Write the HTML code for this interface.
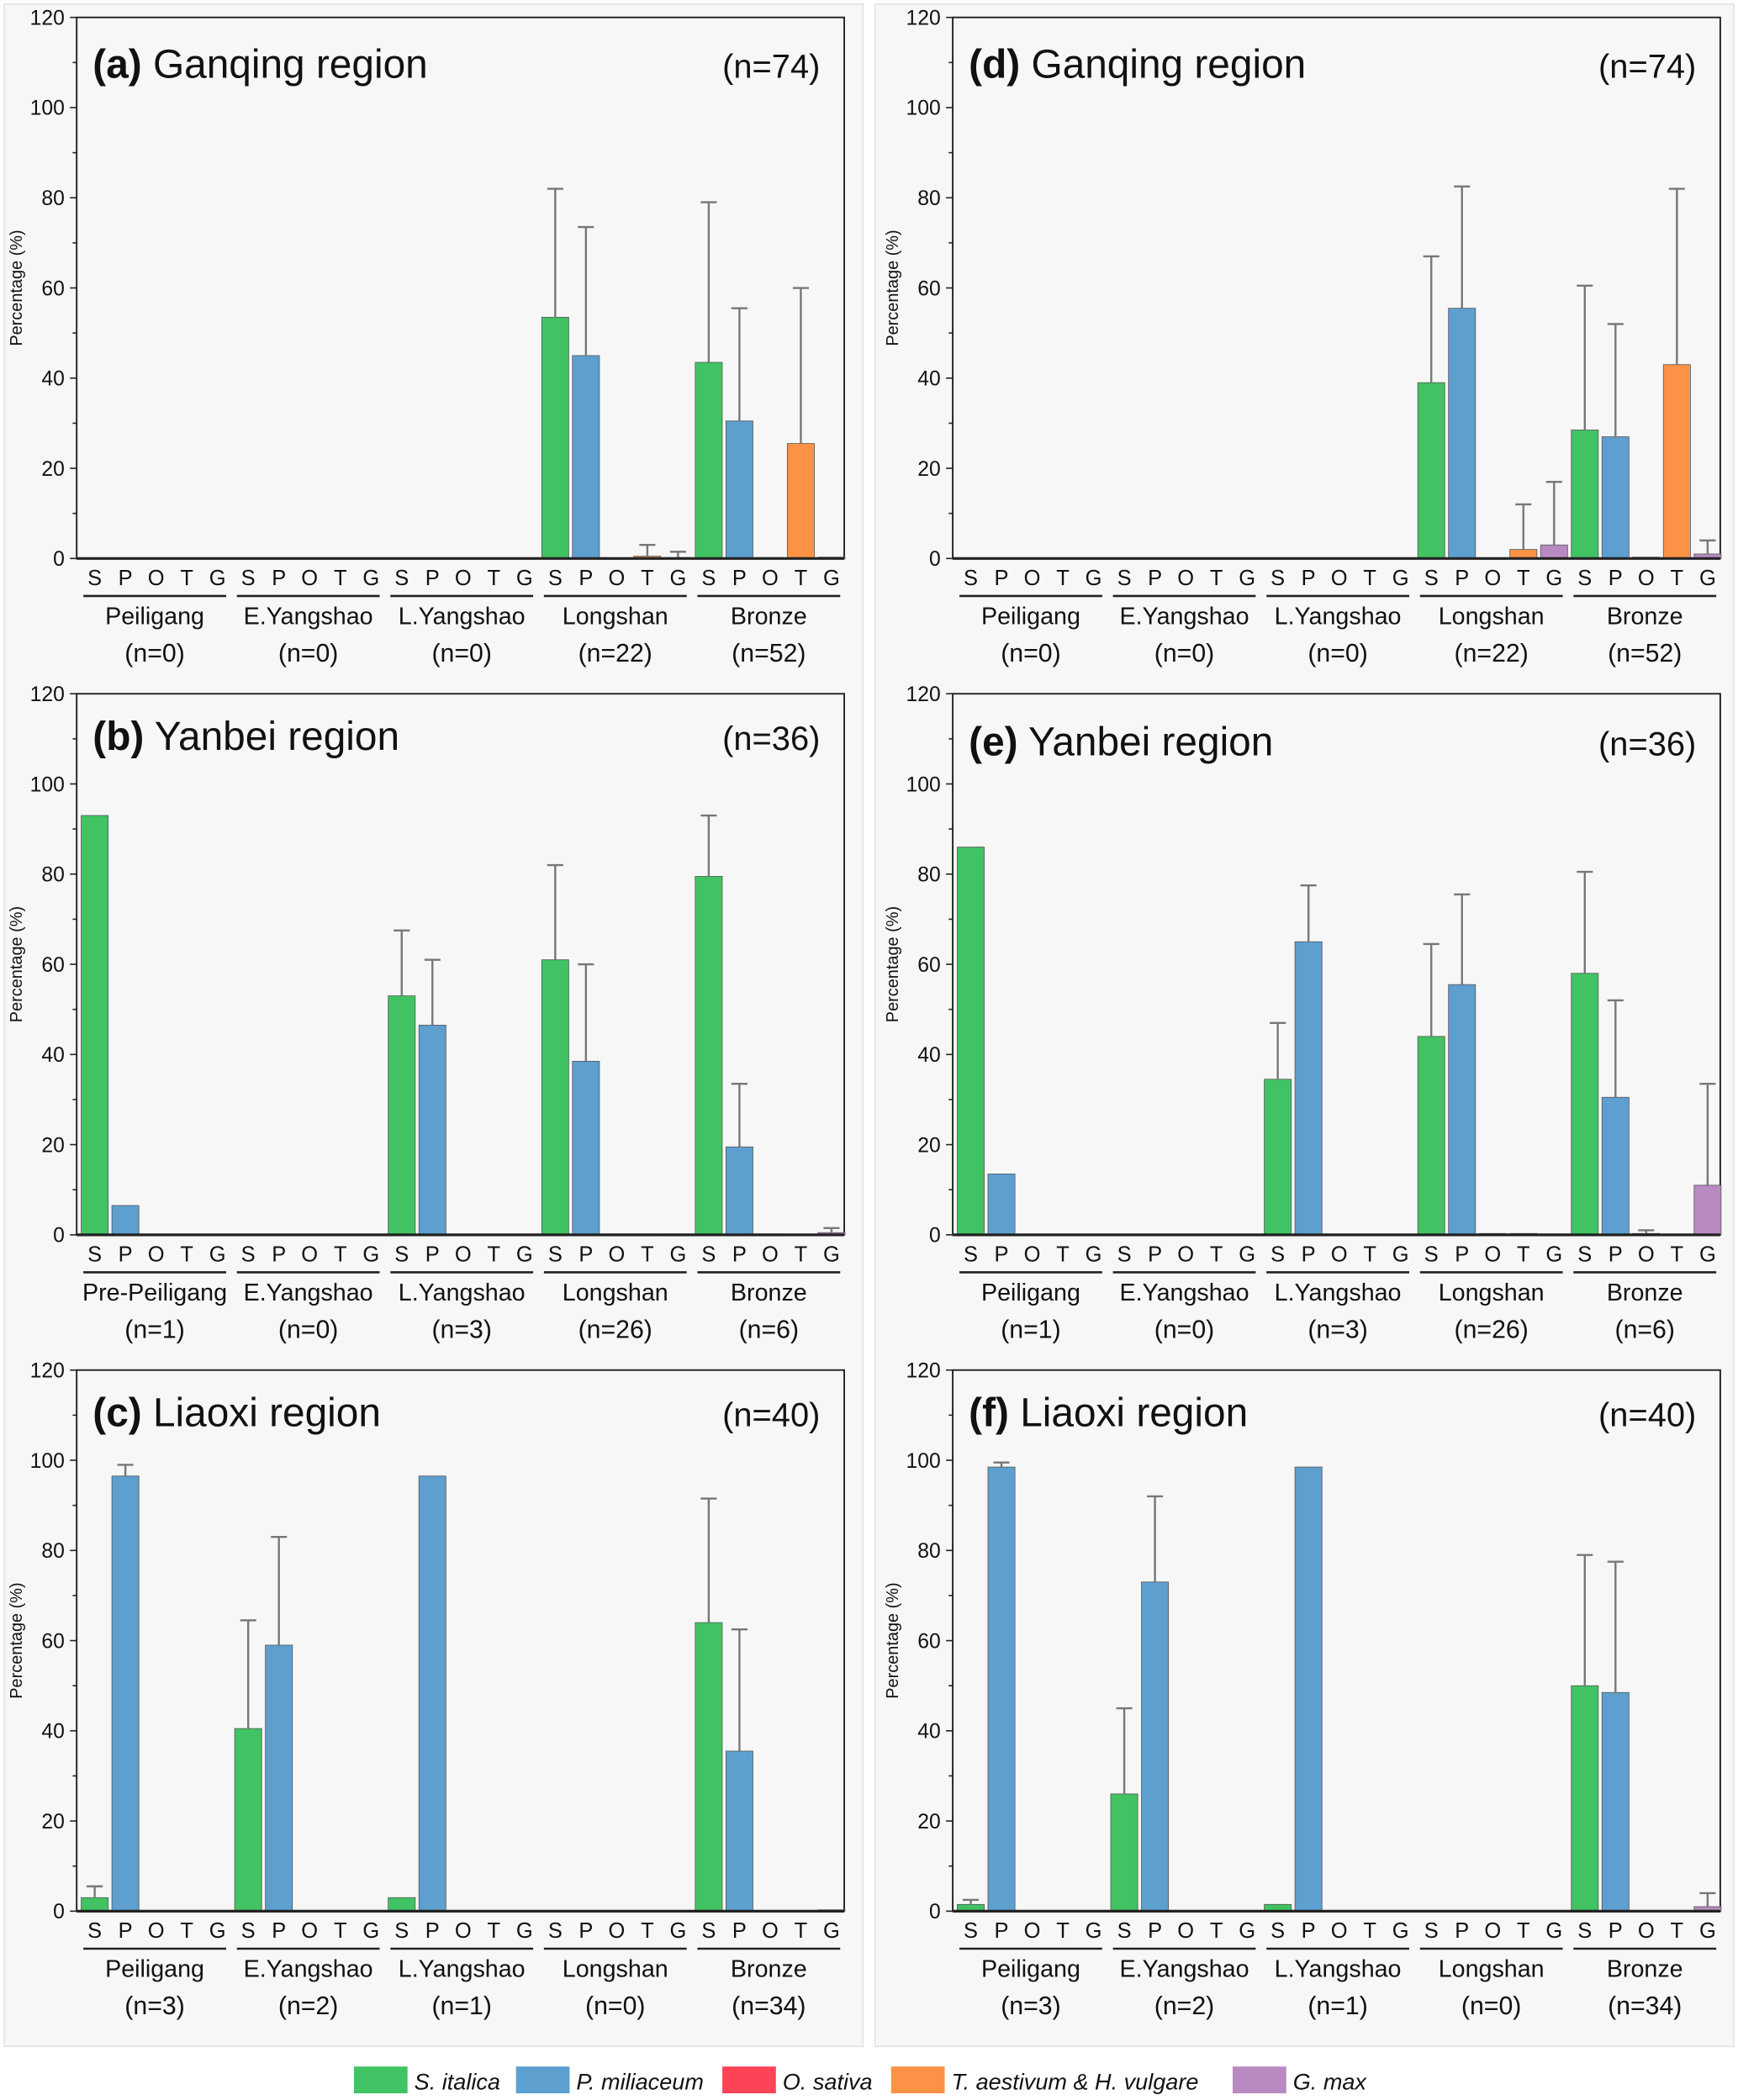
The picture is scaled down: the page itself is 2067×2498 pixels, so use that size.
<!DOCTYPE html>
<html><head><meta charset="utf-8"><style>
html,body{margin:0;padding:0;background:#fff;}
svg{display:block;font-family:"Liberation Sans",sans-serif;}
</style></head><body>
<svg id="fig" width="2067" height="2498" viewBox="0 0 1297 1568" xmlns="http://www.w3.org/2000/svg">
<rect x="3" y="3" width="641" height="1525" fill="#f7f7f7" stroke="#e2e2e2"/>
<rect x="653" y="3" width="641" height="1525" fill="#f7f7f7" stroke="#e2e2e2"/>
<g id="panels"></g>
<g id="legend"></g>
</svg>
<script>
const speciesCodes = ["S","P","O","T","G"];
const speciesColors = ["#41c363","#5d9fcf","#fe4356","#fc9245","#b98ac1"];
const speciesNames = ["S. italica","P. miliaceum","O. sativa","T. aestivum & H. vulgare","G. max"];
const yTicks = [0,20,40,60,80,100,120];

const aS=[null,null,null,53.5,43.5], aP=[null,null,null,45,30.5], aO=[null,null,null,0,0.2], aT=[null,null,null,0.5,25.5], aG=[null,null,null,0.2,0.3];
const aSe=[null,null,null,82,79], aPe=[null,null,null,73.5,55.5], aOe=[null,null,null,null,null], aTe=[null,null,null,3,60], aGe=[null,null,null,1.5,null];
const aGroups=["Peiligang","E.Yangshao","L.Yangshao","Longshan","Bronze"], aN=["(n=0)","(n=0)","(n=0)","(n=22)","(n=52)"];

const bS=[93,null,53,61,79.5], bP=[6.5,null,46.5,38.5,19.5], bO=[null,null,null,0.2,0.2], bT=[null,null,null,0.2,null], bG=[null,null,null,0.2,0.5];
const bSe=[null,null,67.5,82,93], bPe=[null,null,61,60,33.5], bOe=[null,null,null,null,null], bTe=[null,null,null,null,null], bGe=[null,null,null,null,1.5];
const bGroups=["Pre-Peiligang","E.Yangshao","L.Yangshao","Longshan","Bronze"], bN=["(n=1)","(n=0)","(n=3)","(n=26)","(n=6)"];

const cS=[3,40.5,3,null,64], cP=[96.5,59,96.5,null,35.5], cO=[null,null,null,null,null], cT=[null,null,null,null,null], cG=[null,null,null,null,0.3];
const cSe=[5.5,64.5,null,null,91.5], cPe=[99,83,null,null,62.5], cOe=[null,null,null,null,null], cTe=[null,null,null,null,null], cGe=[null,null,null,null,null];
const cGroups=["Peiligang","E.Yangshao","L.Yangshao","Longshan","Bronze"], cN=["(n=3)","(n=2)","(n=1)","(n=0)","(n=34)"];

const dS=[null,null,null,39,28.5], dP=[null,null,null,55.5,27], dO=[null,null,null,0,0.3], dT=[null,null,null,2,43], dG=[null,null,null,3,1];
const dSe=[null,null,null,67,60.5], dPe=[null,null,null,82.5,52], dOe=[null,null,null,null,null], dTe=[null,null,null,12,82], dGe=[null,null,null,17,4];
const dN=["(n=0)","(n=0)","(n=0)","(n=22)","(n=52)"];

const eS=[86,null,34.5,44,58], eP=[13.5,null,65,55.5,30.5], eO=[null,null,null,0.3,0.3], eT=[null,null,null,0.3,null], eG=[null,null,null,0.2,11];
const eSe=[null,null,47,64.5,80.5], ePe=[null,null,77.5,75.5,52], eOe=[null,null,null,null,1], eTe=[null,null,null,null,null], eGe=[null,null,null,null,33.5];
const eN=["(n=1)","(n=0)","(n=3)","(n=26)","(n=6)"];

const fS=[1.5,26,1.5,null,50], fP=[98.5,73,98.5,null,48.5], fO=[null,null,null,null,null], fT=[null,null,null,null,null], fG=[null,null,null,null,1];
const fSe=[2.5,45,null,null,79], fPe=[99.5,92,null,null,77.5], fOe=[null,null,null,null,null], fTe=[null,null,null,null,null], fGe=[null,null,null,null,4];
const fGroups=["Peiligang","E.Yangshao","L.Yangshao","Longshan","Bronze"];

const NS="http://www.w3.org/2000/svg";
function mk(tag,attrs,parent,text){const e=document.createElementNS(NS,tag);for(const k in attrs)e.setAttribute(k,attrs[k]);if(text!==undefined)e.textContent=text;parent.appendChild(e);return e;}

function panel(cfg){
  const root=document.getElementById('panels');
  const g=mk('g',{},root);
  
  
  const x0=cfg.x0,x1=cfg.x0+573,yTop=cfg.y0,yBot=cfg.y0+404;
  const yS=v=>yBot-(v/120)*(yBot-yTop);
  const gw=(x1-x0)/5, slot=gw/5, bw=slot*0.88;
  const xS=(gi,si)=>x0+gi*gw+slot*si+slot*0.06+2;
  mk('rect',{x:x0,y:yTop,width:x1-x0,height:yBot-yTop,fill:'#f7f7f7',stroke:'#222','stroke-width':1.2},g);
  for(let si=0;si<5;si++){
    for(let gi=0;gi<5;gi++){
      const v=cfg.vals[si][gi]; if(v===null) continue;
      const bx=xS(gi,si);
      const r=mk('rect',{x:bx,y:yS(v),width:bw,height:Math.max(0.6,yBot-yS(v)),fill:speciesColors[si],stroke:'#555','stroke-width':0.5},g);
      
      
      const e=cfg.errs[si][gi];
      if(e!==null){
        const cx=bx+bw/2;
        const l=mk('line',{x1:cx,x2:cx,y1:yS(v),y2:yS(e),stroke:'#777','stroke-width':1.5},g);
        
        
        mk('line',{x1:cx-6,x2:cx+6,y1:yS(e),y2:yS(e),stroke:'#777','stroke-width':1.5},g);
      }
    }
  }
  mk('line',{x1:x0,x2:x1,y1:yBot,y2:yBot,stroke:'#222','stroke-width':2},g);
  for(const t of yTicks){
    mk('line',{x1:x0-5,x2:x0,y1:yS(t),y2:yS(t),stroke:'#222','stroke-width':1},g);
    const tl=mk('text',{x:x0-9,y:yS(t)+5.5,'text-anchor':'end','font-size':15.5,fill:'#111'},g,String(t));
    
    
    if(t<120) mk('line',{x1:x0-3,x2:x0,y1:yS(t+10),y2:yS(t+10),stroke:'#222','stroke-width':1},g);
  }
  const yl=mk('text',{x:0,y:0,transform:`translate(${x0-41},${(yTop+yBot)/2}) rotate(-90)`,'text-anchor':'middle','font-size':12.5,fill:'#111'},g,'Percentage (%)');
  
  
  for(let gi=0;gi<5;gi++){
    for(let si=0;si<5;si++){
      mk('text',{x:xS(gi,si)+bw/2,y:yBot+20,'text-anchor':'middle','font-size':16,fill:'#111'},g,speciesCodes[si]);
    }
    const gx=x0+gi*gw;
    mk('line',{x1:gx+5,x2:gx+gw-3,y1:yBot+28,y2:yBot+28,stroke:'#222','stroke-width':1.6},g);
    const gl=mk('text',{x:gx+gw/2+1,y:yBot+49,'text-anchor':'middle','font-size':18,fill:'#111'},g,cfg.groups[gi]);
    
    
    mk('text',{x:gx+gw/2+1,y:yBot+77,'text-anchor':'middle','font-size':19,fill:'#111'},g,cfg.ns[gi]);
  }
  const title=mk('text',{x:x0+12,y:yTop+cfg.ty,'font-size':30,fill:'#111'},g);
  
  
  mk('tspan',{'font-weight':'bold'},title,'('+cfg.letter+')');
  mk('tspan',{},title,' '+cfg.title);
  mk('text',{x:x1-18,y:yTop+cfg.ty,'text-anchor':'end','font-size':25,fill:'#111'},g,cfg.total);
}
panel({letter:'a',x0:57,y0:13,title:'Ganqing region',total:'(n=74)',ty:45,vals:[aS,aP,aO,aT,aG],errs:[aSe,aPe,aOe,aTe,aGe],groups:aGroups,ns:aN});
panel({letter:'b',x0:57,y0:518,title:'Yanbei region',total:'(n=36)',ty:42,vals:[bS,bP,bO,bT,bG],errs:[bSe,bPe,bOe,bTe,bGe],groups:bGroups,ns:bN});
panel({letter:'c',x0:57,y0:1023,title:'Liaoxi region',total:'(n=40)',ty:42,vals:[cS,cP,cO,cT,cG],errs:[cSe,cPe,cOe,cTe,cGe],groups:cGroups,ns:cN});
panel({letter:'d',x0:711,y0:13,title:'Ganqing region',total:'(n=74)',ty:45,vals:[dS,dP,dO,dT,dG],errs:[dSe,dPe,dOe,dTe,dGe],groups:aGroups,ns:dN});
panel({letter:'e',x0:711,y0:518,title:'Yanbei region',total:'(n=36)',ty:46,vals:[eS,eP,eO,eT,eG],errs:[eSe,ePe,eOe,eTe,eGe],groups:aGroups,ns:eN});
panel({letter:'f',x0:711,y0:1023,title:'Liaoxi region',total:'(n=40)',ty:42,vals:[fS,fP,fO,fT,fG],errs:[fSe,fPe,fOe,fTe,fGe],groups:fGroups,ns:cN});

const lg=document.getElementById('legend');
const legendX=[264,385,539,665,920];
for(let i=0;i<5;i++){
  const r=mk('rect',{x:legendX[i],y:1543,width:40,height:20,fill:speciesColors[i]},lg);
  
  
  const t=mk('text',{x:legendX[i]+45,y:1560,'font-size':17,'font-style':'italic',fill:'#111'},lg,speciesNames[i]);
  
  
}
</script>
</body></html>
